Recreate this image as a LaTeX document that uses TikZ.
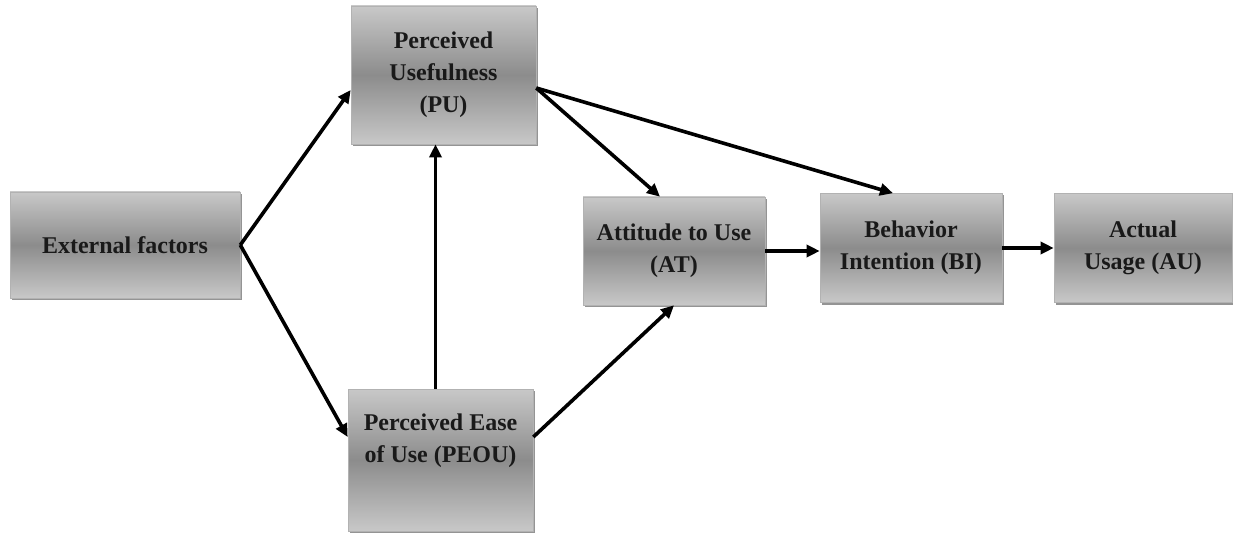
\documentclass[tikz,border=0pt]{standalone}
\usepackage{fontspec}
\setmainfont{Liberation Serif}
\usetikzlibrary{calc,shadows,arrows.meta}
\definecolor{boxlight}{HTML}{C8C8C8}
\definecolor{boxdark}{HTML}{8C8C8C}
\begin{document}
\begin{tikzpicture}[x=0.5pt,y=-0.5pt,
  box/.style={rectangle, draw=gray!60, line width=0.3pt,
    top color=boxlight, bottom color=boxlight, middle color=boxdark,
    drop shadow={shadow xshift=1pt, shadow yshift=-1pt, opacity=0.7, fill=black!60},
    align=center, font=\bfseries\fontsize{12}{16}\selectfont, text=black!90,
    inner sep=0pt},
  arr/.style={line width=1.8pt, -{Triangle[length=6.5pt,width=6pt]}}
]
\useasboundingbox (0,0) rectangle (1233,535);
\node[box, minimum width=115pt, minimum height=53pt] (EF) at (125,245) {External factors};
\node[box, minimum width=92.5pt, minimum height=69pt] (PU) at (443.5,75) {Perceived\\Usefulness\\(PU)};
\node[box, minimum width=91pt, minimum height=54pt] (AT) at (674,251) {Attitude to Use\\(AT)};
\node[box, minimum width=91pt, minimum height=54.5pt] (BI) at (911,248) {Behavior\\Intention (BI)};
\node[box, minimum width=89pt, minimum height=54.5pt] (AU) at (1143,248) {Actual\\Usage (AU)};
\node[box, minimum width=92.5pt, minimum height=71pt] (PEOU) at (440.5,460) {Perceived Ease\\of Use (PEOU)\\[6pt]};

\draw[arr] (EF.east) -- ($(PU.west)+(0,15)$);
\draw[arr] (EF.east) -- ($(PEOU.west)+(0,-23)$);
\draw[arr] ($(PEOU.north)+(-5,0)$) -- ($(PU.south)+(-8,0)$);
\draw[arr] ($(PU.east)+(0,13)$) -- ($(AT.north)+(-14,0)$);
\draw[arr] ($(PU.east)+(0,13)$) -- ($(BI.north)+(-18,0)$);
\draw[arr] ($(PEOU.east)+(0,-23)$) -- (AT.south);
\draw[arr] (AT.east) -- (BI.west |- AT.east);
\draw[arr] (BI.east) -- (AU.west);
\end{tikzpicture}
\end{document}
